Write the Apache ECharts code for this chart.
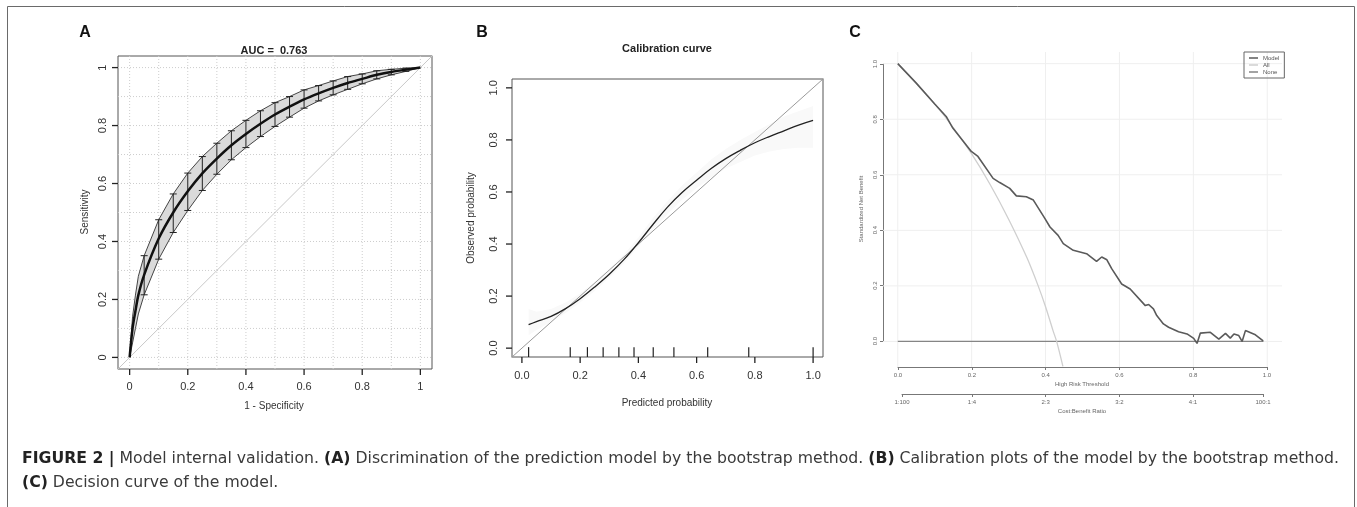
<!DOCTYPE html>
<html lang="en">
<head>
<meta charset="UTF-8">
<title>Model internal validation</title>
<script src="https://cdn.jsdelivr.net/npm/echarts@6.0.0/dist/echarts.min.js"></script>
<style>
  html, body { margin: 0; padding: 0; background: #fff; }
  #main { width: 1357px; height: 507px; }
</style>
</head>
<body>
<div id="main"></div>
<script>
// ---- A: bootstrap ROC ----
var rocX     = [0, 0.01, 0.02, 0.03, 0.05, 0.1, 0.15, 0.2, 0.25, 0.3, 0.35, 0.4, 0.45, 0.5, 0.55, 0.6, 0.65, 0.7, 0.75, 0.8, 0.85, 0.9, 0.95, 1];
var rocMean  = [0, 0.1, 0.16, 0.215, 0.285, 0.41, 0.5, 0.573, 0.635, 0.686, 0.732, 0.771, 0.806, 0.838, 0.865, 0.89, 0.911, 0.93, 0.947, 0.961, 0.975, 0.985, 0.993, 1];
var rocUpper = [0, 0.14, 0.215, 0.28, 0.351, 0.475, 0.564, 0.636, 0.693, 0.739, 0.782, 0.818, 0.851, 0.879, 0.9, 0.923, 0.938, 0.954, 0.969, 0.978, 0.989, 0.994, 0.998, 1];
var rocLower = [0, 0.05, 0.1, 0.15, 0.216, 0.339, 0.431, 0.507, 0.576, 0.632, 0.682, 0.724, 0.762, 0.797, 0.829, 0.86, 0.885, 0.906, 0.925, 0.944, 0.961, 0.975, 0.987, 1];
var rocTicks = [0, 0.2, 0.4, 0.6, 0.8, 1];
var rocGrid  = [0, 0.1, 0.2, 0.3, 0.4, 0.5, 0.6, 0.7, 0.8, 0.9, 1];
var aucText  = 'AUC =  0.763';

// ---- B: calibration ----
var calX  = [0.023, 0.05, 0.1, 0.15, 0.2, 0.25, 0.3, 0.35, 0.4, 0.45, 0.5, 0.55, 0.6, 0.65, 0.7, 0.75, 0.8, 0.85, 0.9, 0.95, 1.0];
var calY  = [0.09, 0.102, 0.122, 0.152, 0.19, 0.235, 0.284, 0.34, 0.405, 0.475, 0.542, 0.598, 0.645, 0.69, 0.728, 0.76, 0.789, 0.813, 0.835, 0.857, 0.875];
var calLo = [0.05, 0.07, 0.1, 0.135, 0.175, 0.22, 0.27, 0.325, 0.39, 0.455, 0.515, 0.57, 0.615, 0.655, 0.69, 0.715, 0.74, 0.755, 0.765, 0.77, 0.77];
var calHi = [0.15, 0.14, 0.15, 0.175, 0.21, 0.255, 0.305, 0.36, 0.425, 0.5, 0.565, 0.625, 0.675, 0.725, 0.765, 0.8, 0.83, 0.86, 0.89, 0.91, 0.93];
var rugX  = [0.023, 0.166, 0.225, 0.279, 0.333, 0.385, 0.451, 0.522, 0.638, 0.779, 1.0];
var calTicks = [0, 0.2, 0.4, 0.6, 0.8, 1];

// ---- C: decision curve ----
var dcaX    = [0, 0.05, 0.1, 0.131, 0.149, 0.199, 0.217, 0.258, 0.276, 0.303, 0.321, 0.348, 0.367, 0.398, 0.412, 0.434, 0.448, 0.475, 0.511, 0.538, 0.552, 0.566, 0.579, 0.606, 0.629, 0.67, 0.679, 0.692, 0.701, 0.719, 0.733, 0.76, 0.783, 0.801, 0.81, 0.819, 0.846, 0.869, 0.887, 0.9, 0.91, 0.923, 0.932, 0.941, 0.968, 0.989];
var modelNB = [1.0, 0.93, 0.855, 0.81, 0.768, 0.684, 0.666, 0.587, 0.572, 0.551, 0.524, 0.521, 0.509, 0.443, 0.412, 0.382, 0.352, 0.328, 0.316, 0.288, 0.304, 0.294, 0.262, 0.207, 0.189, 0.129, 0.133, 0.117, 0.093, 0.063, 0.051, 0.035, 0.027, 0.011, -0.007, 0.03, 0.033, 0.008, 0.029, 0.012, 0.027, 0.021, 0.0, 0.039, 0.024, 0.002];
var allX    = [0, 0.05, 0.1, 0.15, 0.2, 0.25, 0.3, 0.35, 0.38, 0.4, 0.42, 0.43, 0.447];
var allNB   = [1.0, 0.93, 0.855, 0.77, 0.675, 0.565, 0.44, 0.3, 0.2, 0.125, 0.04, 0.0, -0.09];
var noneX   = [0, 0.99];
var noneNB  = [0, 0];
var dcaTicks    = [0, 0.2, 0.4, 0.6, 0.8, 1];
var ratioPos    = [0.01, 0.2, 0.4, 0.6, 0.8, 0.99];
var ratioLabels = ['1:100', '1:4', '2:3', '3:2', '4:1', '100:1'];

var FONT = '"Liberation Sans", Arial, sans-serif';
var CAP_FONT = '"DejaVu Sans", sans-serif';
var TICK = 6;

// plot boxes and their axis ranges (R pads 4% on each side)
var boxA = { left: 118, top: 56, width: 314, height: 313, show: true, borderColor: '#555', borderWidth: 1 }, rangeA = [-0.04, 1.04];
var boxB = { left: 512, top: 79, width: 311, height: 278, show: true, borderColor: '#555', borderWidth: 1 }, rangeB = [-0.034, 1.034];

// strips under / left of a box that cover data 0..1
function stripX(box, r, h) {
  var k = box.width / (r[1] - r[0]);
  return { left: box.left + (0 - r[0]) * k, width: k, top: box.top + box.height, height: h };
}
function stripY(box, r, w) {
  var k = box.height / (r[1] - r[0]);
  return { left: box.left - w, width: w, top: box.top + (r[1] - 1) * k, height: k };
}

function pairs(xs, ys) {
  return xs.map(function (x, i) { return [x, ys[i]]; });
}

// polygon between two curves, placed with the axis scale
function band(xs, lo, hi, fill, stroke) {
  return function (params, api) {
    var pts = [];
    for (var i = 0; i < xs.length; i++) pts.push(api.coord([xs[i], hi[i]]));
    for (var j = xs.length - 1; j >= 0; j--) pts.push(api.coord([xs[j], lo[j]]));
    return {
      type: 'polygon', shape: { points: pts },
      style: { fill: fill, stroke: stroke || null, lineWidth: stroke ? 1 : 0 }
    };
  };
}

// background grid lines at given values, across the whole plot rect
function gridLines(vals, style) {
  return function (params, api) {
    var cs = params.coordSys;
    var kids = [];
    vals.forEach(function (v) {
      var p = api.coord([v, v]);
      kids.push({ type: 'line', shape: { x1: p[0], y1: cs.y, x2: p[0], y2: cs.y + cs.height }, style: style });
      kids.push({ type: 'line', shape: { x1: cs.x, y1: p[1], x2: cs.x + cs.width, y2: p[1] }, style: style });
    });
    return { type: 'group', children: kids };
  };
}

// tick marks drawn inside a small strip grid (0..1 on both axes)
function tickMarks(vals, vertical) {
  return function (params, api) {
    var st = { stroke: '#222', lineWidth: 1.3 };
    return {
      type: 'group',
      children: vals.map(function (v) {
        var a = vertical ? api.coord([v, 0]) : api.coord([0, v]);
        var b = vertical ? api.coord([v, 1]) : api.coord([1, v]);
        return { type: 'line', shape: { x1: a[0], y1: a[1], x2: b[0], y2: b[1] }, style: st };
      })
    };
  };
}

var errBars = [];
for (var i = 4; i < rocX.length - 1; i++) errBars.push([rocX[i], rocLower[i], rocUpper[i]]);

var fix1 = function (v) { return v.toFixed(1); };
var hidden = function (grid, min, max) { return { type: 'value', gridIndex: grid, min: min, max: max, show: false }; };

// axis on 0..1 carrying labels (and optionally line + ticks)
function ticked(grid, min, max, ticks, label, o) {
  o = o || {};
  return {
    type: 'value', gridIndex: grid, min: min, max: max, position: o.position,
    axisLine: { show: !!o.line, onZero: false, lineStyle: { color: o.lineColor || '#555', width: 1 } },
    axisTick: { show: !!o.line, customValues: ticks, length: o.tickLen || 6, lineStyle: { color: o.lineColor || '#444' } },
    axisLabel: Object.assign({
      customValues: ticks, fontSize: o.fontSize || 11, color: o.color || '#333',
      fontFamily: FONT, margin: o.margin || 12, rotate: o.rotate || 0
    }, label ? { formatter: label } : {}),
    splitLine: { show: false }
  };
}

var ratioLabel = function (v) {
  var best = 0;
  for (var i = 1; i < ratioPos.length; i++) {
    if (Math.abs(ratioPos[i] - v) < Math.abs(ratioPos[best] - v)) best = i;
  }
  return ratioLabels[best];
};
var small = { fontSize: 6, color: '#666', margin: 5, tickLen: 3, lineColor: '#777', line: true };

var chart = echarts.init(document.getElementById('main'));

var option = {
  animation: false,
  grid: [
    boxA,                                                 // 0 A
    boxB,                                                 // 1 B
    { left: 883, top: 52, width: 399, height: 315 },      // 2 C plot
    { left: 898, top: 366, width: 369, height: 1 },       // 3 C threshold axis
    { left: 902, top: 393, width: 361, height: 1 },       // 4 C cost:benefit axis
    { left: 883, top: 64, width: 1, height: 277 },        // 5 C y axis
    stripX(boxA, rangeA, TICK),                           // 6 A x ticks + labels
    stripY(boxA, rangeA, TICK),                           // 7 A y ticks + labels
    stripX(boxB, rangeB, TICK),                           // 8 B x ticks + labels
    stripY(boxB, rangeB, TICK)                            // 9 B y ticks + labels
  ],
  xAxis: [
    hidden(0, rangeA[0], rangeA[1]),
    hidden(1, rangeB[0], rangeB[1]),
    hidden(2, -0.04, 1.04),
    ticked(3, 0, 1, dcaTicks, fix1, small),
    ticked(4, 0.01, 0.99, ratioPos, ratioLabel, small),
    hidden(5, 0, 1),
    ticked(6, 0, 1, rocTicks, null, { margin: 6 }),
    hidden(7, 0, 1),
    ticked(8, 0, 1, calTicks, fix1, { margin: 7 }),
    hidden(9, 0, 1)
  ],
  yAxis: [
    hidden(0, rangeA[0], rangeA[1]),
    hidden(1, rangeB[0], rangeB[1]),
    hidden(2, -0.092, 1.042),
    hidden(3, 0, 1),
    hidden(4, 0, 1),
    ticked(5, 0, 1, dcaTicks, fix1, Object.assign({ rotate: 90 }, small)),
    hidden(6, 0, 1),
    ticked(7, 0, 1, rocTicks, null, { rotate: 90, margin: 4, position: 'left' }),
    hidden(8, 0, 1),
    ticked(9, 0, 1, calTicks, fix1, { rotate: 90, margin: 7, position: 'left' })
  ],
  legend: {
    data: ['Model', 'All', 'None'],
    orient: 'vertical', left: 1244, top: 52,
    itemWidth: 9, itemHeight: 1.5, itemGap: 1, icon: 'rect',
    padding: [3, 5, 3, 5],
    borderColor: '#666', borderWidth: 1, borderRadius: 0,
    textStyle: { fontSize: 6, color: '#555', fontFamily: FONT }
  },
  series: [
    // A
    {
      type: 'custom', xAxisIndex: 0, yAxisIndex: 0, data: [[0, 0]], silent: true,
      renderItem: gridLines(rocGrid, { stroke: '#cdcdcd', lineWidth: 1, lineDash: [1, 2] })
    },
    {
      type: 'line', xAxisIndex: 0, yAxisIndex: 0, data: [[-0.05, -0.05], [1.05, 1.05]],
      symbol: 'none', lineStyle: { color: '#c8c8c8', width: 1 }, silent: true
    },
    {
      type: 'custom', xAxisIndex: 0, yAxisIndex: 0, data: [[0, 0]], silent: true,
      renderItem: band(rocX, rocLower, rocUpper, '#dadada', '#444')
    },
    {
      type: 'custom', xAxisIndex: 0, yAxisIndex: 0, data: errBars, silent: true,
      encode: { x: 0, y: [1, 2] },
      renderItem: function (params, api) {
        var x = api.value(0);
        var a = api.coord([x, api.value(2)]);
        var b = api.coord([x, api.value(1)]);
        var w = 3.5, st = { stroke: '#222', lineWidth: 1 };
        return {
          type: 'group', children: [
            { type: 'line', shape: { x1: a[0], y1: a[1], x2: b[0], y2: b[1] }, style: st },
            { type: 'line', shape: { x1: a[0] - w, y1: a[1], x2: a[0] + w, y2: a[1] }, style: st },
            { type: 'line', shape: { x1: b[0] - w, y1: b[1], x2: b[0] + w, y2: b[1] }, style: st }
          ]
        };
      }
    },
    {
      type: 'line', xAxisIndex: 0, yAxisIndex: 0, data: pairs(rocX, rocMean),
      symbol: 'none', smooth: 0.3, lineStyle: { color: '#111', width: 2.5 }, silent: true
    },
    { type: 'custom', xAxisIndex: 6, yAxisIndex: 6, data: [[0, 0]], silent: true, renderItem: tickMarks(rocTicks, true) },
    { type: 'custom', xAxisIndex: 7, yAxisIndex: 7, data: [[0, 0]], silent: true, renderItem: tickMarks(rocTicks, false) },
    // B
    {
      type: 'custom', xAxisIndex: 1, yAxisIndex: 1, data: [[0, 0]], silent: true,
      renderItem: band(calX, calLo, calHi, '#f9f9f9')
    },
    {
      type: 'line', xAxisIndex: 1, yAxisIndex: 1, data: [[-0.05, -0.05], [1.05, 1.05]],
      symbol: 'none', lineStyle: { color: '#9a9a9a', width: 1 }, silent: true
    },
    {
      type: 'line', xAxisIndex: 1, yAxisIndex: 1, data: pairs(calX, calY),
      symbol: 'none', smooth: 0.4, lineStyle: { color: '#222', width: 1.3 }, silent: true
    },
    {
      type: 'custom', xAxisIndex: 1, yAxisIndex: 1, silent: true,
      data: rugX.map(function (x) { return [x, 0]; }),
      renderItem: function (params, api) {
        var x = api.value(0);
        var a = api.coord([x, rangeB[0]]);
        var b = api.coord([x, 0]);
        return { type: 'line', shape: { x1: a[0], y1: a[1], x2: b[0], y2: b[1] - 1 }, style: { stroke: '#222', lineWidth: 1.2 } };
      }
    },
    { type: 'custom', xAxisIndex: 8, yAxisIndex: 8, data: [[0, 0]], silent: true, renderItem: tickMarks(calTicks, true) },
    { type: 'custom', xAxisIndex: 9, yAxisIndex: 9, data: [[0, 0]], silent: true, renderItem: tickMarks(calTicks, false) },
    // C
    {
      type: 'custom', xAxisIndex: 2, yAxisIndex: 2, data: [[0, 0]], silent: true,
      renderItem: gridLines(dcaTicks, { stroke: '#efefef', lineWidth: 1 })
    },
    {
      type: 'line', name: 'None', xAxisIndex: 2, yAxisIndex: 2, data: pairs(noneX, noneNB),
      symbol: 'none', lineStyle: { color: '#858585', width: 1.3 }, itemStyle: { color: '#858585' }, silent: true
    },
    {
      type: 'line', name: 'All', xAxisIndex: 2, yAxisIndex: 2, data: pairs(allX, allNB),
      symbol: 'none', smooth: 0.3, lineStyle: { color: '#cfcfcf', width: 1.3 }, itemStyle: { color: '#cfcfcf' }, silent: true
    },
    {
      type: 'line', name: 'Model', xAxisIndex: 2, yAxisIndex: 2, data: pairs(dcaX, modelNB),
      symbol: 'none', lineStyle: { color: '#5a5a5a', width: 1.6 }, itemStyle: { color: '#5a5a5a' }, silent: true
    }
  ],
  graphic: [
    { type: 'rect', shape: { x: 7.5, y: 6.5, width: 1347, height: 520 }, style: { fill: 'none', stroke: '#6a6a6a', lineWidth: 1 }, silent: true },
    { type: 'text', x: 85, y: 33, style: { text: 'A', font: 'bold 16px ' + FONT, fill: '#111', align: 'center', verticalAlign: 'middle' } },
    { type: 'text', x: 482, y: 33, style: { text: 'B', font: 'bold 16px ' + FONT, fill: '#111', align: 'center', verticalAlign: 'middle' } },
    { type: 'text', x: 855, y: 33, style: { text: 'C', font: 'bold 16px ' + FONT, fill: '#111', align: 'center', verticalAlign: 'middle' } },
    { type: 'text', x: 274, y: 51, style: { text: aucText, font: 'bold 11px ' + FONT, fill: '#222', align: 'center', verticalAlign: 'middle' } },
    { type: 'text', x: 85, y: 212, rotation: Math.PI / 2, style: { text: 'Sensitivity', font: '10px ' + FONT, fill: '#333', align: 'center', verticalAlign: 'middle' } },
    { type: 'text', x: 274, y: 406, style: { text: '1 - Specificity', font: '10px ' + FONT, fill: '#333', align: 'center', verticalAlign: 'middle' } },
    { type: 'text', x: 667, y: 49, style: { text: 'Calibration curve', font: 'bold 11px ' + FONT, fill: '#222', align: 'center', verticalAlign: 'middle' } },
    { type: 'text', x: 471, y: 218, rotation: Math.PI / 2, style: { text: 'Observed probability', font: '10px ' + FONT, fill: '#333', align: 'center', verticalAlign: 'middle' } },
    { type: 'text', x: 667, y: 403, style: { text: 'Predicted probability', font: '10px ' + FONT, fill: '#333', align: 'center', verticalAlign: 'middle' } },
    { type: 'text', x: 861, y: 209, rotation: Math.PI / 2, style: { text: 'Standardized Net Benefit', font: '6px ' + FONT, fill: '#666', align: 'center', verticalAlign: 'middle' } },
    { type: 'text', x: 1082, y: 384, style: { text: 'High Risk Threshold', font: '6px ' + FONT, fill: '#666', align: 'center', verticalAlign: 'middle' } },
    { type: 'text', x: 1082, y: 411, style: { text: 'Cost:Benefit Ratio', font: '6px ' + FONT, fill: '#666', align: 'center', verticalAlign: 'middle' } },
    {
      type: 'text', x: 22, y: 447,
      style: {
        text: '{b|FIGURE 2 |} Model internal validation. {b|(A)} Discrimination of the prediction model by the bootstrap method. {b|(B)} Calibration plots of the model by the bootstrap method.\n{b|(C)} Decision curve of the model.',
        font: '15.7px ' + CAP_FONT, fill: '#3a3a3a', lineHeight: 24,
        rich: { b: { fontWeight: 'bold', fontSize: 15.7, fontFamily: CAP_FONT, fill: '#222', lineHeight: 24 } }
      }
    }
  ]
};

chart.setOption(option);
</script>
</body>
</html>
